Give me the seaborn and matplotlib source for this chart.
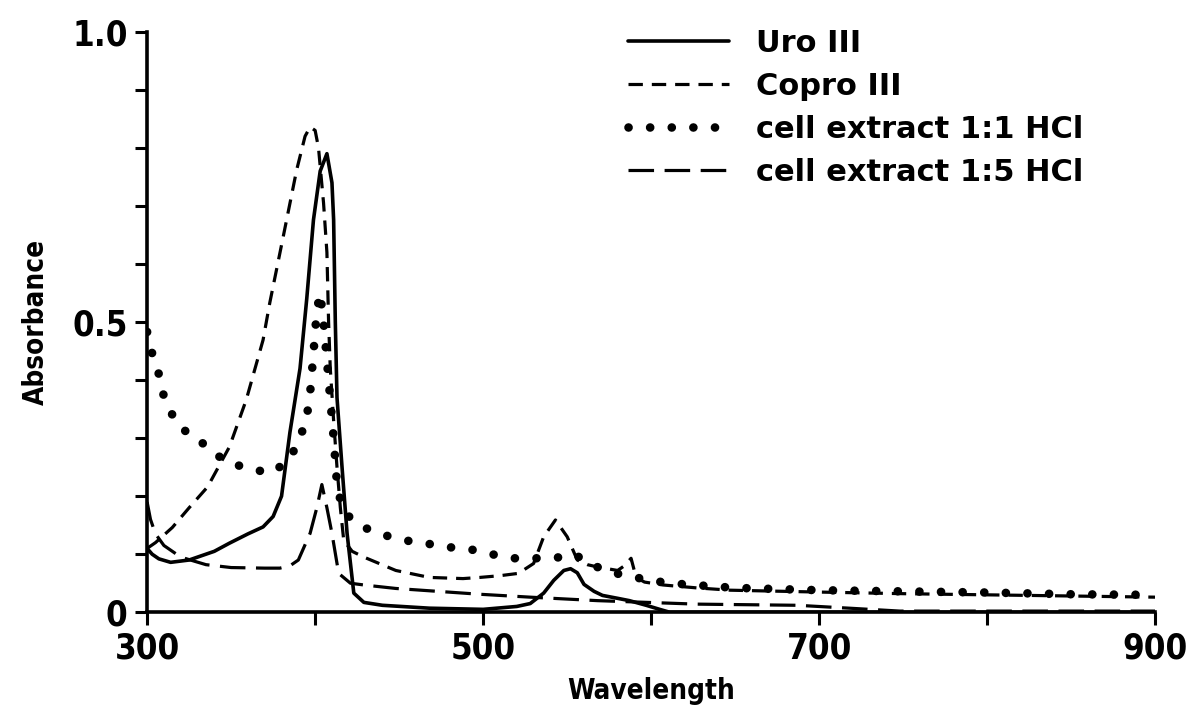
import numpy as np
import pandas as pd
import matplotlib
matplotlib.use("Agg")
import matplotlib.pyplot as plt
import seaborn as sns
from matplotlib.lines import Line2D

# ---------------- data ----------------
uro_x = [300, 303, 307, 314, 325, 340, 349, 360, 369, 375, 380, 385, 391, 395, 399, 403,
         407, 410, 411, 412, 413, 416, 419, 423, 429, 440, 468, 500, 520, 528, 536, 542,
         548, 552, 556, 560, 566, 571, 580, 587, 597, 605, 611, 650, 750, 900]
uro_y = [0.11, 0.10, 0.092, 0.086, 0.09, 0.105, 0.119, 0.135, 0.147, 0.165, 0.20, 0.31,
         0.42, 0.54, 0.676, 0.76, 0.79, 0.74, 0.676, 0.50, 0.37, 0.25, 0.136, 0.033, 0.017,
         0.012, 0.007, 0.005, 0.01, 0.015, 0.033, 0.055, 0.072, 0.075, 0.068, 0.048, 0.036,
         0.029, 0.024, 0.02, 0.012, 0.005, 0.0, 0.0, 0.0, 0.0]

copro_x = [300, 305, 315, 325, 336, 349, 359, 369, 373, 381, 389, 394, 397, 400, 402, 405,
           407, 408, 409, 411, 413, 415, 417, 422, 429, 448, 468, 488, 498, 510, 521, 530,
           536, 543, 550, 556, 562, 568, 580, 584, 588, 591, 596, 607, 627, 647, 696, 750,
           800, 850, 900]
copro_y = [0.11, 0.12, 0.146, 0.18, 0.216, 0.285, 0.366, 0.469, 0.533, 0.647, 0.762, 0.82,
           0.836, 0.83, 0.80, 0.705, 0.62, 0.50, 0.42, 0.33, 0.25, 0.18, 0.124, 0.105, 0.095,
           0.072, 0.06, 0.058, 0.06, 0.063, 0.067, 0.084, 0.13, 0.159, 0.13, 0.09, 0.082,
           0.078, 0.072, 0.08, 0.093, 0.06, 0.052, 0.047, 0.042, 0.038, 0.035, 0.032, 0.03,
           0.028, 0.026]

hcl11_x = [300, 303, 307, 309, 314, 320, 330, 339, 351, 363, 375, 385, 391, 395, 397, 399,
           401, 403, 405, 408, 411, 413, 416, 421, 430, 441, 453, 465, 480, 493, 505, 518,
           530, 542, 554, 566, 578, 587, 597, 620, 650, 700, 750, 800, 850, 900]
hcl11_y = [0.483, 0.446, 0.41, 0.38, 0.345, 0.317, 0.30, 0.274, 0.256, 0.245, 0.241, 0.265,
           0.30, 0.336, 0.377, 0.446, 0.52, 0.55, 0.50, 0.40, 0.30, 0.22, 0.18, 0.162, 0.145,
           0.133, 0.124, 0.119, 0.112, 0.108, 0.10, 0.093, 0.093, 0.093, 0.10, 0.08, 0.067,
           0.064, 0.055, 0.048, 0.042, 0.038, 0.036, 0.034, 0.031, 0.03]

hcl15_x = [300, 302, 305, 310, 320, 335, 350, 370, 379, 385, 390, 397, 401, 404, 407, 410,
           414, 421, 429, 448, 488, 498, 528, 568, 627, 687, 718, 748, 800, 900]
hcl15_y = [0.19, 0.16, 0.135, 0.115, 0.095, 0.082, 0.077, 0.076, 0.076, 0.08, 0.09, 0.136,
           0.18, 0.22, 0.18, 0.136, 0.067, 0.05, 0.047, 0.041, 0.033, 0.031, 0.026, 0.02,
           0.014, 0.012, 0.007, 0.002, 0.002, 0.002]

labels = ["Uro III", "Copro III", "cell extract 1:1 HCl", "cell extract 1:5 HCl"]
x_ticks = [300, 400, 500, 600, 700, 800, 900]
x_ticklabels = ["300", "", "500", "", "700", "", "900"]
y_ticks = [0.0, 0.1, 0.2, 0.3, 0.4, 0.5, 0.6, 0.7, 0.8, 0.9, 1.0]
y_ticklabels = ["0", "", "", "", "", "0.5", "", "", "", "", "1.0"]

# ---------------- styling ----------------
sns.set_theme(style="white")
plt.rcParams['font.family'] = ['DejaVu Sans']
plt.rcParams['font.stretch'] = 'condensed'
plt.rcParams['text.color'] = 'black'
plt.rcParams['axes.labelcolor'] = 'black'

fig = plt.figure(figsize=(11.96, 7.22), dpi=100)
ax = fig.add_axes([0.123, 0.152, 0.843, 0.804])

styles = [
    dict(linestyle='-', linewidth=2.6),
    dict(linestyle=(0, (4.5, 2.8)), linewidth=2.3),
    dict(linestyle=(0, (0.01, 2.5)), linewidth=6.2, dash_capstyle='round'),
    dict(linestyle=(0, (8, 3.3)), linewidth=2.3),
]
series = [(uro_x, uro_y), (copro_x, copro_y), (hcl11_x, hcl11_y), (hcl15_x, hcl15_y)]

handles = []
for (xs, ys), st, lab in zip(series, styles, labels):
    df = pd.DataFrame({"Wavelength": xs, "Absorbance": ys})
    sns.lineplot(data=df, x="Wavelength", y="Absorbance", ax=ax, color="black",
                 estimator=None, sort=False, **st)
    handles.append(Line2D([], [], color="black", **st))

ax.set_xlim(300, 900)
ax.set_ylim(0, 1.0)
ax.set_xticks(x_ticks)
ax.set_xticklabels(x_ticklabels)
ax.set_yticks(y_ticks)
ax.set_yticklabels(y_ticklabels)
ax.tick_params(axis='both', which='major', bottom=True, left=True, direction='out',
               length=9, width=2.2, colors='black', labelcolor='black',
               labelsize=25, pad=5)
for lbl in ax.get_xticklabels() + ax.get_yticklabels():
    lbl.set_fontweight('bold')
for s in ['top', 'right']:
    ax.spines[s].set_visible(False)
for s in ['left', 'bottom']:
    ax.spines[s].set_color('black')
    ax.spines[s].set_linewidth(2.6)

ax.set_xlabel("Wavelength", fontsize=20, fontweight='bold', labelpad=8)
ax.set_ylabel("Absorbance", fontsize=20, fontweight='bold', labelpad=16)

leg = ax.legend(handles, labels, loc='upper left', bbox_to_anchor=(0.477, 1.005),
                frameon=False, handlelength=3.3, handletextpad=0.9,
                labelspacing=0.46, borderpad=0, borderaxespad=0,
                prop={'weight': 'bold', 'size': 22, 'stretch': 'normal'})
for t in leg.get_texts():
    t.set_color('black')

fig.savefig("out.png", dpi=100, facecolor="white")
